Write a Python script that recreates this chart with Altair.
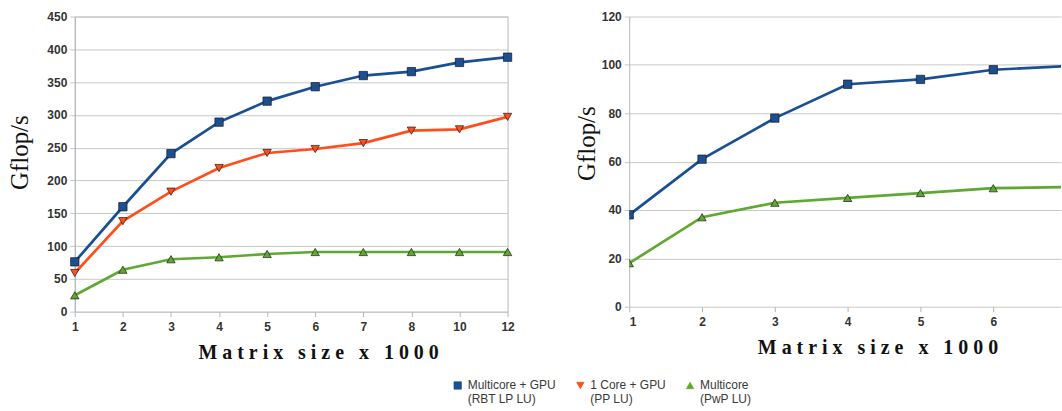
import altair as alt
import pandas as pd

# ---- data ----
series_names = ["Multicore + GPU (RBT LP LU)", "1 Core + GPU (PP LU)", "Multicore (PwP LU)"]
series_colors = ["#1b4f93", "#ff4d1c", "#5fa832"]
series_shapes = ["square", "triangle-down", "triangle-up"]

left_sizes = [1, 2, 3, 4, 5, 6, 7, 8, 10, 12]
left_blue = [76, 160, 241, 289, 321, 343, 360, 366, 380, 388]
left_red = [59, 138, 183, 219, 242, 248, 257, 276, 278, 297]
left_green = [25, 64, 80, 83, 88, 91, 91, 91, 91, 91]

right_sizes = [1, 2, 3, 4, 5, 6, 7]
right_blue = [38, 61, 78, 92, 94, 98, 99.5]
right_green = [18, 37, 43, 45, 47, 49, 49.5]

left_yticks = [0, 50, 100, 150, 200, 250, 300, 350, 400, 450]
right_yticks = [0, 20, 40, 60, 80, 100, 120]
right_xticks = [1, 2, 3, 4, 5, 6]

x_title = "\u00a0".join("Matrix") + "\u00a0\u00a0\u00a0" + "\u00a0".join("size") + "\u00a0\u00a0\u00a0x\u00a0\u00a0\u00a0" + "\u00a0".join("1000")
y_title = "Gflop/s"

# ---- tables ----
left_df = pd.DataFrame(
    [{"size": s, "gflops": v, "series": series_names[0]} for s, v in zip(left_sizes, left_blue)]
    + [{"size": s, "gflops": v, "series": series_names[1]} for s, v in zip(left_sizes, left_red)]
    + [{"size": s, "gflops": v, "series": series_names[2]} for s, v in zip(left_sizes, left_green)]
)
right_df = pd.DataFrame(
    [{"size": s, "gflops": v, "series": series_names[0]} for s, v in zip(right_sizes, right_blue)]
    + [{"size": s, "gflops": v, "series": series_names[2]} for s, v in zip(right_sizes, right_green)]
)

label_font = "Liberation Sans"
title_font = "Liberation Serif"

legend_common = dict(title=None, orient="none", legendX=378, legendY=364)

color_enc = alt.Color(
    "series:N",
    scale=alt.Scale(domain=series_names, range=series_colors),
    legend=alt.Legend(
        direction="horizontal",
        labelFont=label_font,
        labelFontSize=12,
        labelColor="#3a3a3a",
        symbolSize=55,
        symbolStrokeColor="#222222",
        symbolStrokeWidth=0.7,
        columnPadding=18,
        labelOffset=4,
        labelExpr="[slice(datum.label, 0, indexof(datum.label, ' (')), slice(datum.label, indexof(datum.label, ' (') + 1)]",
        **legend_common,
    ),
)
shape_enc = alt.Shape(
    "series:N",
    scale=alt.Scale(domain=series_names, range=series_shapes),
    legend=alt.Legend(**legend_common),
)

y_axis_common = dict(
    labelFont=label_font,
    labelFontSize=12,
    labelFontWeight="bold",
    labelColor="#333333",
    titleFont=title_font,
    titleFontSize=25,
    titleFontWeight="normal",
    titleColor="#111111",
    gridColor="#c8c8c8",
    domainColor="#b5b5b5",
    tickColor="#c8c8c8",
    tickSize=5,
    labelPadding=3,
)
x_axis_common = dict(
    labelFont=label_font,
    labelFontSize=12,
    labelFontWeight="bold",
    labelColor="#333333",
    labelAngle=0,
    titleFont=title_font,
    titleFontSize=20,
    titleFontWeight="bold",
    titleColor="#111111",
    grid=False,
    domain=False,
    tickColor="#b5b5b5",
    tickSize=5,
    labelPadding=5,
    titlePadding=10,
)

# ---- left panel ----
lx = alt.X("size:O", scale=alt.Scale(type="point", padding=0), axis=alt.Axis(title=x_title, titleX=244, **x_axis_common))
ly = alt.Y(
    "gflops:Q",
    scale=alt.Scale(domain=[0, 450]),
    axis=alt.Axis(title=y_title, values=left_yticks, titleY=136, titlePadding=14, **y_axis_common),
)

left_base = alt.Chart(left_df)
left = alt.layer(
    left_base.mark_line(strokeWidth=2.7).encode(x=lx, y=ly, color=color_enc),
    left_base.mark_point(filled=True, size=70, opacity=1, stroke="#1a1a1a", strokeWidth=0.7).encode(
        x=lx, y=ly, color=color_enc, shape=shape_enc
    ),
).properties(width=434, height=296, view=alt.ViewBackground(stroke="#b8b8b8"))

# ---- right panel ----
rx = alt.X(
    "size:Q",
    scale=alt.Scale(domain=[1, 6.93], nice=False, zero=False),
    axis=alt.Axis(title=x_title, values=right_xticks, format="d", titleX=249, **x_axis_common),
)
ry = alt.Y(
    "gflops:Q",
    scale=alt.Scale(domain=[0, 120]),
    axis=alt.Axis(title=y_title, values=right_yticks, titleY=127, titlePadding=2, **y_axis_common),
)

right_base = alt.Chart(right_df)
right = alt.layer(
    right_base.mark_line(strokeWidth=2.7, clip=True).encode(x=rx, y=ry, color=color_enc),
    right_base.mark_point(filled=True, size=70, opacity=1, stroke="#1a1a1a", strokeWidth=0.7, clip=True).encode(
        x=rx, y=ry, color=color_enc, shape=shape_enc
    ),
).properties(width=433, height=291, view=alt.ViewBackground(stroke="transparent"))

chart = (
    alt.hconcat(left, right, spacing=58)
    .properties(padding={"left": 7, "top": 9, "right": 0, "bottom": 0}, background="white")
    .configure_view(strokeWidth=1)
)

chart.save("out.html", embed_options={"renderer": "svg", "actions": False})
